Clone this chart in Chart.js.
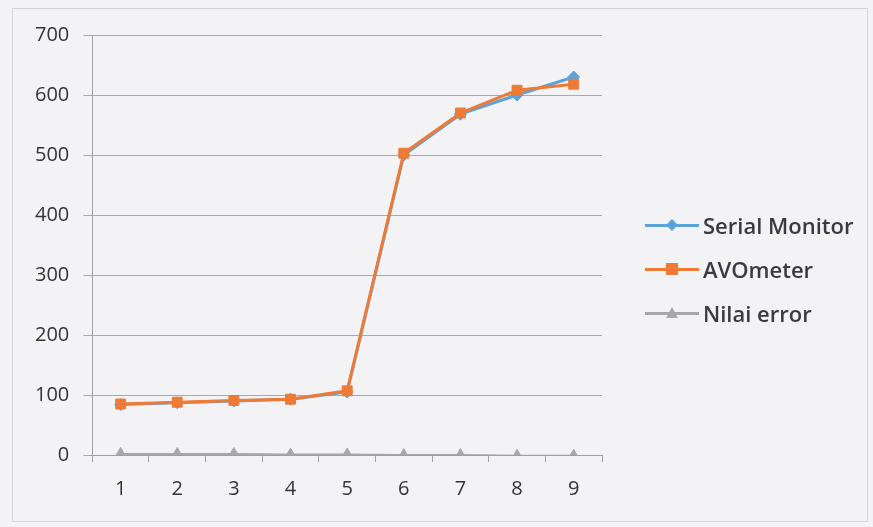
<!DOCTYPE html>
<html>
<head>
<meta charset="utf-8">
<script src="https://cdn.jsdelivr.net/npm/chart.js@4.4.1/dist/chart.umd.min.js"></script>
<style>
  html, body { margin: 0; padding: 0; background: #f3f3f5; }
  #wrap { position: relative; width: 873px; height: 527px; }
  #frame { position: absolute; left: 12px; top: 8px; width: 856px; height: 514px; border: 1px solid #d4d4d8; box-sizing: border-box; }
  #myChart { position: absolute; left: 0; top: 0; }
  #legend { position: absolute; left: 645px; top: 203px; font-family: "Open Sans", "Noto Sans", sans-serif; font-size: 22px; font-weight: 600; color: #3a3a40; }
  .item { display: flex; align-items: center; height: 44px; }
  .sym { position: relative; width: 54px; height: 14px; margin-right: 4px; }
  .sym .ln { position: absolute; left: 0; right: 0; top: 6px; height: 3px; }
  .sym .mk { position: absolute; left: 21px; top: 1px; width: 12px; height: 12px; }
</style>
</head>
<body>
<div id="wrap">
  <div id="frame"></div>
  <canvas id="myChart" width="873" height="527"></canvas>
  <div id="legend"></div>
</div>
<script>
const categories = ['1', '2', '3', '4', '5', '6', '7', '8', '9'];
const serialMonitor = [84, 87, 90, 93, 105, 500, 568, 600, 630];
const avometer = [85, 88, 91, 93, 107, 503, 570, 608, 618];
const nilaiError = [1, 1, 1, 0, 0, -1, -1, -2, -2];
const yTicks = [0, 100, 200, 300, 400, 500, 600, 700];

const series = [
  { label: 'Serial Monitor', data: serialMonitor, color: '#5ba3d9', point: 'rectRot', radius: 6 },
  { label: 'AVOmeter', data: avometer, color: '#ee7a36', point: 'rect', radius: 7 },
  { label: 'Nilai error', data: nilaiError, color: '#a8a8ac', point: 'triangle', radius: 7 }
];

const font = { family: '"Open Sans", "Noto Sans", sans-serif', size: 20 };

var ctx = document.getElementById('myChart').getContext('2d');
var chart = new Chart(ctx, {
  type: 'line',
  data: {
    labels: categories,
    datasets: series.map((s, i) => ({
      label: s.label,
      data: s.data,
      borderColor: s.color,
      backgroundColor: s.color,
      borderWidth: 3,
      pointStyle: s.point,
      pointRadius: s.radius,
      pointBorderWidth: 1,
      tension: 0,
      order: i == 0 ? 1 : (i == 1 ? 0 : 2)
    }))
  },
  options: {
    responsive: false,
    animation: false,
    layout: { padding: { left: 21, top: 35, right: 271, bottom: 11 } },
    plugins: { legend: { display: false }, tooltip: { enabled: false } },
    scales: {
      x: {
        offset: true,
        grid: { offset: true, drawOnChartArea: false, tickLength: 7, color: '#a0a0a4' },
        border: { color: '#a0a0a4' },
        ticks: { font: font, color: '#333338', padding: 15 }
      },
      y: {
        min: 0,
        max: 700,
        afterBuildTicks: (axis) => { axis.ticks = yTicks.map(v => ({ value: v })); },
        grid: { color: '#a8a8ac', tickLength: 9 },
        border: { color: '#a0a0a4' },
        ticks: { font: font, color: '#333338', padding: 14 }
      }
    }
  }
});

// legend in html, built from the datasets
const legend = document.getElementById('legend');
series.forEach((s) => {
  let mk = '';
  if (s.point == 'rect') {
    mk = '<div class="mk" style="background:' + s.color + '"></div>';
  } else if (s.point == 'rectRot') {
    mk = '<div class="mk" style="background:' + s.color + ';transform:rotate(45deg) scale(0.7)"></div>';
  } else {
    mk = '<div class="mk" style="width:0;height:0;border-left:6px solid transparent;border-right:6px solid transparent;border-bottom:11px solid ' + s.color + '"></div>';
  }
  legend.innerHTML += '<div class="item"><div class="sym"><div class="ln" style="background:' + s.color + '"></div>' + mk + '</div><span>' + s.label + '</span></div>';
});
</script>
</body>
</html>
